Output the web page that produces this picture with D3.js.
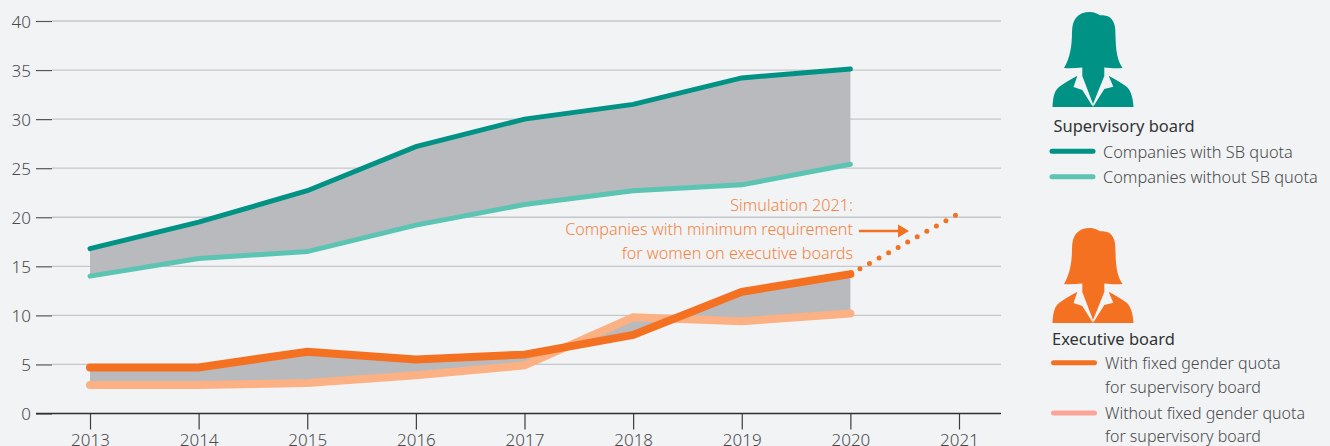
<!DOCTYPE html>
<html>
<head>
<meta charset="utf-8">
<script src="https://cdn.jsdelivr.net/npm/d3@7"></script>
<style>
html,body{margin:0;padding:0;background:#f1f3f5;overflow:hidden}
svg{display:block}
text{font-family:"Noto Sans",sans-serif;font-weight:300}
</style>
</head>
<body>
<svg id="chart" width="1330" height="446"></svg>
<script>
var years = [2013,2014,2015,2016,2017,2018,2019,2020]
var sbWith = [16.8,19.5,22.7,27.2,30.0,31.5,34.2,35.1]
var sbWithout = [14.0,15.8,16.5,19.2,21.3,22.7,23.3,25.4]
var ebWith = [4.7,4.7,6.3,5.5,6.0,8.0,12.4,14.2]
var ebWithout = [2.9,2.9,3.1,3.9,4.9,9.8,9.4,10.2]
var simYears = [2020,2021]
var simValues = [14.2,20.4]
var yTicks = [0,5,10,15,20,25,30,35,40]
var xTicks = [2013,2014,2015,2016,2017,2018,2019,2020,2021]

var svg = d3.select("#chart")
var xScale = d3.scaleLinear().domain([2013,2021]).range([90,959])
var yScale = d3.scaleLinear().domain([0,40]).range([413.5,21])

var teal = "#009284", lightTeal = "#5cc4b2", orange = "#f57122", lightOrange = "#fbb184", textCol = "#4a4a4c"

// grid
svg.selectAll(".grid").data(yTicks.slice(1)).enter().append("line")
    .attr("class","grid")
    .attr("x1",52).attr("x2",1001)
    .attr("y1",function(d){return yScale(d)}).attr("y2",function(d){return yScale(d)})
    .attr("stroke","#c6c7ca").attr("stroke-width",1.3)

var yAxis = d3.axisLeft(yScale).tickValues(yTicks).tickSize(16).tickPadding(5)
var gy = svg.append("g").attr("transform","translate(52,0)").call(yAxis)
gy.select(".domain").remove()
gy.selectAll("line").attr("stroke","#55565a").attr("stroke-width",1.2)
gy.selectAll("text").attr("font-size",17).attr("fill",textCol).attr("dy","0.36em")

var xAxis = d3.axisBottom(xScale).tickValues(xTicks).tickFormat(d3.format("d")).tickSize(16).tickPadding(4)
var gx = svg.append("g").attr("transform","translate(0,413.5)").call(xAxis)
gx.select(".domain").remove()
gx.selectAll("line").attr("stroke","#3c3d40").attr("stroke-width",1.2)
gx.selectAll("text").attr("font-size",17).attr("fill",textCol)
svg.append("line").attr("x1",36).attr("x2",1001).attr("y1",413.5).attr("y2",413.5)
    .attr("stroke","#2e2f32").attr("stroke-width",1.4)

// bands
var band = d3.area()
    .x(function(d){return xScale(d.year)})
    .y0(function(d){return yScale(d.low)})
    .y1(function(d){return yScale(d.high)})
function bandData(high,low){
    return years.map(function(y,i){return {year:y,high:high[i],low:low[i]}})
}
svg.append("path").datum(bandData(sbWith,sbWithout)).attr("d",band).attr("fill","#b9babd")
svg.append("path").datum(bandData(ebWith,ebWithout)).attr("d",band).attr("fill","#b9babd")

// lines
var line = d3.line()
    .x(function(d,i){return xScale(years[i])})
    .y(function(d){return yScale(d)})
function drawLine(values,color,width){
    svg.append("path").datum(values).attr("d",line).attr("fill","none")
        .attr("stroke",color).attr("stroke-width",width)
        .attr("stroke-linecap","round").attr("stroke-linejoin","miter")
}
drawLine(sbWithout,lightTeal,5)
drawLine(sbWith,teal,5)
drawLine(ebWithout,lightOrange,8)
drawLine(ebWith,orange,8)

// simulated part
var simLine = d3.line()
    .x(function(d,i){return xScale(simYears[i])})
    .y(function(d){return yScale(d)})
svg.append("path").datum(simValues).attr("d",simLine).attr("fill","none")
    .attr("stroke",orange).attr("stroke-width",5)
    .attr("stroke-linecap","round").attr("stroke-dasharray","0 10.95")

// annotation
var noteCol = "#f5833f"
var note = ["Simulation 2021:","Companies with minimum requirement","for women on executive boards"]
svg.selectAll(".note").data(note).enter().append("text")
    .attr("class","note")
    .attr("x",853).attr("y",function(d,i){return 211+i*24})
    .attr("text-anchor","end").attr("font-size",16.2).attr("fill",noteCol)
    .text(function(d){return d})
svg.append("line").attr("x1",859).attr("x2",898).attr("y1",231).attr("y2",231)
    .attr("stroke",orange).attr("stroke-width",2.4)
svg.append("path").attr("d","M898,224.5L909,231L898,237.5Z").attr("fill",orange)

// legend
function person(x,y,color){
    var g = svg.append("g").attr("transform","translate("+x+","+y+")")
    // shoulders
    g.append("path").attr("fill",color)
        .attr("d","M0.5,95 C1,86 2,79 7,75 C12,71 18,68 25,64 L41,94 L57,64 C64,68 70,71 75,75 C79,79 81,86 81.5,95 Z")
    // collar
    g.append("path").attr("fill","#f1f3f5")
        .attr("d","M25.7,63 L21.5,75 L30.3,78 L41,95 L32,63 Z M56.3,63 L61.3,74.7 L52.3,77 L41,95 L50,63 Z")
    // head and hair
    g.append("path").attr("fill",color)
        .attr("d","M12,56 C18,46 20,34 20,20 C20,7 26,0 38,0 C42,0 45,1.5 48,3.2 C50,3 53,3.2 55,4 C60,5.5 63,11 63.3,18 C63.8,32 63.5,46 70.5,56 C63,56.5 58,56 52.3,55.5 L52.3,64 L41,92 L30.3,64 L30.3,55.5 C24,56 18,56.5 12,56 Z")
}
person(1052,12,teal)
person(1052,228,orange)

function legendTitle(txt,x,y){
    svg.append("text").attr("x",x).attr("y",y).attr("font-size",16.45).attr("fill","#333336")
        .style("font-weight",400).text(txt)
}
function legendLine(x,y,color){
    svg.append("line").attr("x1",x).attr("x2",x+41).attr("y1",y).attr("y2",y)
        .attr("stroke",color).attr("stroke-width",5).attr("stroke-linecap","round")
}
function legendText(txt,x,y,size){
    svg.append("text").attr("x",x).attr("y",y).attr("font-size",size).attr("fill",textCol).text(txt)
}
legendTitle("Supervisory board",1053.5,132)
legendLine(1052,151.3,teal)
legendText("Companies with SB quota",1103,158,16.35)
legendLine(1052,176.7,lightTeal)
legendText("Companies without SB quota",1103,183,16.35)
legendTitle("Executive board",1052,345)
legendLine(1053.5,362.7,orange)
legendText("With fixed gender quota",1105,369,16)
legendText("for supervisory board",1105,393,16)
legendLine(1053.5,413,"#fba598")
legendText("Without fixed gender quota",1105,419,16)
legendText("for supervisory board",1105,442,16)
</script>
</body>
</html>
